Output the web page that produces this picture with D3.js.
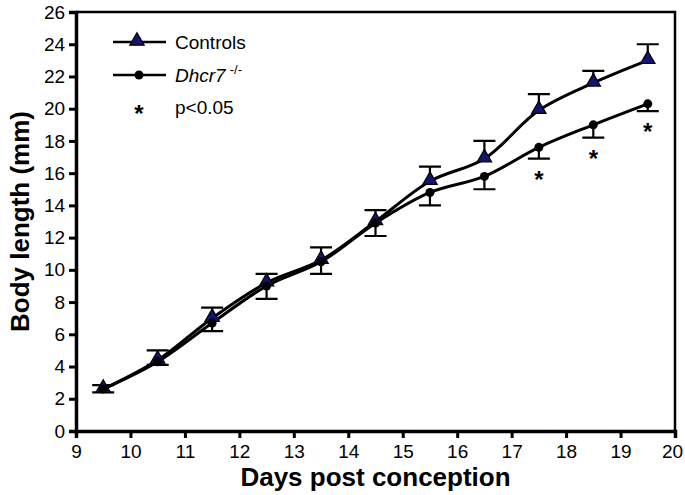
<!DOCTYPE html>
<html>
<head>
<meta charset="utf-8">
<script src="https://cdn.jsdelivr.net/npm/d3@7"></script>
<style>
  body { margin: 0; background: #fff; }
  text { font-family: "Liberation Sans", Arial, sans-serif; }
</style>
</head>
<body>
<div id="chart"></div>
<script>
// Data
const days = [9.5, 10.5, 11.5, 12.5, 13.5, 14.5, 15.5, 16.5, 17.5, 18.5, 19.5];
const controls = [2.6, 4.4, 7.0, 9.2, 10.6, 13.0, 15.5, 16.9, 19.9, 21.6, 23.0];
const controlsErr = [0.25, 0.6, 0.65, 0.55, 0.8, 0.7, 0.9, 1.1, 1.0, 0.75, 1.0];
const mutants = [2.6, 4.3, 6.7, 9.0, 10.5, 12.9, 14.8, 15.8, 17.6, 19.0, 20.3];
const mutantsErr = [0.2, 0.2, 0.5, 0.8, 0.75, 0.8, 0.8, 0.8, 0.7, 0.8, 0.45];
const significant = [17.5, 18.5, 19.5];
const xTicks = d3.range(9, 21);
const yTicks = d3.range(0, 27, 2);

const width = 685, height = 495;
const margin = {top: 12, right: 10, bottom: 64, left: 76};

const svg = d3.select("#chart").append("svg")
    .attr("width", width)
    .attr("height", height);

const x = d3.scaleLinear().domain([9, 20]).range([margin.left, width - margin.right]);
const y = d3.scaleLinear().domain([0, 26]).range([height - margin.bottom, margin.top]);

// frame (top and right)
svg.append("path")
    .attr("d", `M${x(9)},${y(26)}H${x(20)}V${y(0)}`)
    .attr("fill", "none")
    .attr("stroke", "#000")
    .attr("stroke-width", 2.5);

// axes
const xAxis = svg.append("g")
    .attr("transform", `translate(0,${y(0)})`)
    .call(d3.axisBottom(x).tickValues(xTicks).tickSize(7).tickFormat(d3.format("d")));
const yAxis = svg.append("g")
    .attr("transform", `translate(${x(9)},0)`)
    .call(d3.axisLeft(y).tickValues(yTicks).tickSize(7).tickFormat(d3.format("d")));

[xAxis, yAxis].forEach(g => {
    g.select(".domain").attr("stroke-width", 3.5);
    g.selectAll(".tick line").attr("stroke-width", 3);
    g.selectAll(".tick text").attr("font-size", 19).attr("fill", "#000")
        .attr("font-family", "'Liberation Sans', Arial, sans-serif");
});
xAxis.selectAll(".tick text").attr("dy", "0.9em");
// keep the last label inside the page
xAxis.selectAll(".tick text").filter(d => d === 20).attr("dx", -3);
yAxis.selectAll(".tick text").attr("dx", "-0.05em");

// axis titles
svg.append("text")
    .attr("x", (x(9) + x(20)) / 2)
    .attr("y", 486)
    .attr("text-anchor", "middle")
    .attr("font-size", 26)
    .attr("font-weight", "bold")
    .text("Days post conception");

svg.append("text")
    .attr("transform", `translate(29,${(y(0) + y(26)) / 2}) rotate(-90)`)
    .attr("text-anchor", "middle")
    .attr("font-size", 26)
    .attr("font-weight", "bold")
    .text("Body length (mm)");

const line = d3.line().curve(d3.curveCatmullRom.alpha(0.5))
    .x((d, i) => x(days[i]))
    .y(d => y(d));

// error bars: controls upward, mutants downward
const capW = 11;
const errG = svg.append("g").attr("stroke", "#000").attr("stroke-width", 2.2);
days.forEach((d, i) => {
    const cx = x(d);
    const top = y(controls[i] + controlsErr[i]);
    errG.append("path").attr("d", `M${cx},${y(controls[i])}V${top}M${cx - capW},${top}H${cx + capW}`);
    const bot = y(mutants[i] - mutantsErr[i]);
    errG.append("path").attr("d", `M${cx},${y(mutants[i])}V${bot}M${cx - capW},${bot}H${cx + capW}`);
});

// lines
svg.append("path").datum(controls).attr("d", line)
    .attr("fill", "none").attr("stroke", "#000").attr("stroke-width", 3);
svg.append("path").datum(mutants).attr("d", line)
    .attr("fill", "none").attr("stroke", "#000").attr("stroke-width", 3);

const tri = d3.symbol().type(d3.symbolTriangle).size(90);

// markers
svg.append("g").selectAll("path").data(controls).join("path")
    .attr("d", tri)
    .attr("transform", (d, i) => `translate(${x(days[i])},${y(d) - 1})`)
    .attr("fill", "#14146e")
    .attr("stroke", "#000")
    .attr("stroke-width", 1.2);

svg.append("g").selectAll("circle").data(mutants).join("circle")
    .attr("cx", (d, i) => x(days[i]))
    .attr("cy", d => y(d))
    .attr("r", 4.5)
    .attr("fill", "#000");

// significance asterisks
svg.append("g").selectAll("text").data(significant).join("text")
    .attr("x", d => x(d))
    .attr("y", d => y(mutants[days.indexOf(d)] - mutantsErr[days.indexOf(d)]) + 29)
    .attr("text-anchor", "middle")
    .attr("font-size", 24)
    .attr("font-weight", "bold")
    .text("*");

// legend
const lg = svg.append("g");
lg.append("line").attr("x1", 113).attr("x2", 166).attr("y1", 42).attr("y2", 42)
    .attr("stroke", "#000").attr("stroke-width", 2.5);
lg.append("path").attr("d", tri).attr("transform", "translate(137,41)")
    .attr("fill", "#14146e").attr("stroke", "#000").attr("stroke-width", 1.2);
lg.append("text").attr("x", 175).attr("y", 49).attr("font-size", 19).text("Controls");

lg.append("line").attr("x1", 113).attr("x2", 166).attr("y1", 75).attr("y2", 75)
    .attr("stroke", "#000").attr("stroke-width", 2.5);
lg.append("circle").attr("cx", 139).attr("cy", 75).attr("r", 4.5).attr("fill", "#000");
const t2 = lg.append("text").attr("x", 175).attr("y", 82).attr("font-size", 19);
t2.append("tspan").attr("font-style", "italic").text("Dhcr7");
t2.append("tspan").attr("font-size", 13).attr("dy", -8).attr("dx", 4).text("-/-");

lg.append("text").attr("x", 139).attr("y", 122).attr("text-anchor", "middle")
    .attr("font-size", 24).attr("font-weight", "bold").text("*");
lg.append("text").attr("x", 175).attr("y", 114).attr("font-size", 19).text("p<0.05");
</script>
</body>
</html>
